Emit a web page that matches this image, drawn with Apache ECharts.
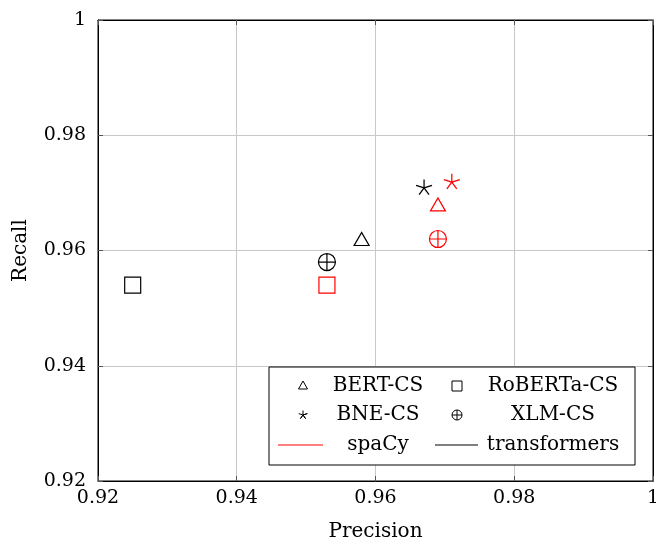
<!DOCTYPE html>
<html><head><meta charset="utf-8">
<script src="https://cdn.jsdelivr.net/npm/echarts@6/dist/echarts.min.js"></script>
<style>html,body{margin:0;padding:0;background:#fff;overflow:hidden}#c{width:656px;height:542px}</style>
</head><body><div id="c"></div>
<script>
const models = ['BERT-CS', 'RoBERTa-CS', 'BNE-CS', 'XLM-CS'];
const frameworks = ['spaCy', 'transformers'];
const frameworkColors = ['#ff0000', '#000000'];
const spacyPrecision = [0.969, 0.953, 0.971, 0.969];
const spacyRecall = [0.968, 0.954, 0.972, 0.962];
const transformersPrecision = [0.958, 0.925, 0.967, 0.953];
const transformersRecall = [0.962, 0.954, 0.971, 0.958];
const xTicks = [0.92, 0.94, 0.96, 0.98, 1];
const yTicks = [0.92, 0.94, 0.96, 0.98, 1];

const symbols = {
  'BERT-CS': 'path://M0,-1.1 L1,0.75 L-1,0.75 Z',
  'RoBERTa-CS': 'path://M-1,-1 L1,-1 L1,1 L-1,1 Z',
  'BNE-CS': 'path://M0,0 L0,-1 M0,0 L0.951,-0.309 M0,0 L0.588,0.809 M0,0 L-0.588,0.809 M0,0 L-0.951,-0.309',
  'XLM-CS': 'path://M-1,0 A1,1 0 1,1 1,0 A1,1 0 1,1 -1,0 Z M-1,0 L1,0 M0,-1 L0,1'
};
const sizes = {'BERT-CS':[15,13], 'RoBERTa-CS':[16,16], 'BNE-CS':[16,15], 'XLM-CS':[17,17]};
const FONT = 'DejaVu Serif';
const FS = 20;
const TFS = 19;

const series = [];
[[spacyPrecision, spacyRecall], [transformersPrecision, transformersRecall]].forEach((pr, fi) => {
  models.forEach((m, mi) => {
    series.push({
      type: 'scatter',
      name: frameworks[fi] + ' ' + m,
      symbol: symbols[m],
      symbolSize: sizes[m],
      symbolKeepAspect: false,
      xAxisIndex: 0, yAxisIndex: 0,
      data: [[pr[0][mi], pr[1][mi]]],
      itemStyle: {color: 'rgba(0,0,0,0)', borderColor: frameworkColors[fi], borderWidth: 1.2, opacity: 1},
      emphasis: {disabled: true},
      z: 5
    });
  });
});

// legend as graphic
const lgX = 269, lgY = 367, lgW = 366, lgH = 98;
const rowY = [386, 415, 445];
const colMarkX = [303, 457];
const colTextX = [378, 553];
const g = [{type:'rect', shape:{x:lgX, y:lgY, width:lgW, height:lgH}, style:{fill:'#fff', stroke:'#000', lineWidth:1}, z:10}];
const legSym = {
  'BERT-CS': {type:'polygon', shape:{points:[[0,-5],[4.5,3],[-4.5,3]]}},
  'RoBERTa-CS': {type:'rect', shape:{x:-5, y:-5, width:10, height:10}},
  'BNE-CS': {type:'polyline', shape:{points:[[0,-4.5],[0,0],[4.3,-1.4],[0,0],[2.6,3.6],[0,0],[-2.6,3.6],[0,0],[-4.3,-1.4]]}},
  'XLM-CS': null
};
models.forEach((m, i) => {
  const r = Math.floor(i / 2), c = i % 2;
  const cx = colMarkX[c], cy = rowY[r];
  if (m === 'XLM-CS') {
    g.push({type:'circle', shape:{cx:cx, cy:cy, r:5}, style:{fill:'none', stroke:'#000', lineWidth:1}, z:11});
    g.push({type:'line', shape:{x1:cx-5, y1:cy, x2:cx+5, y2:cy}, style:{stroke:'#000', lineWidth:1}, z:11});
    g.push({type:'line', shape:{x1:cx, y1:cy-5, x2:cx, y2:cy+5}, style:{stroke:'#000', lineWidth:1}, z:11});
  } else {
    const s = legSym[m];
    g.push(Object.assign({}, s, {x:cx, y:cy, style:{fill:'none', stroke:'#000', lineWidth:1}, z:11}));
  }
  g.push({type:'text', x:colTextX[c], y:cy, style:{text:m, font:FS + 'px "' + FONT + '"', fill:'#000', align:'center', verticalAlign:'middle'}, z:11});
});
const lineX = [[278, 323], [435, 478]];
frameworks.forEach((f, i) => {
  g.push({type:'line', shape:{x1:lineX[i][0], y1:rowY[2], x2:lineX[i][1], y2:rowY[2]}, style:{stroke:frameworkColors[i], lineWidth:1}, z:11});
  g.push({type:'text', x:colTextX[i], y:rowY[2], style:{text:f, font:FS + 'px "' + FONT + '"', fill:'#000', align:'center', verticalAlign:'middle'}, z:11});
});

const fmt = v => (Math.abs(v - 1) < 1e-9 ? '1' : String(Math.round(v * 100) / 100));
const axisCommon = {
  min: 0.92, max: 1, interval: 0.02,
  axisLine: {show: true, onZero: false, lineStyle: {color: '#000', width: 1}},
  axisTick: {show: true, inside: true, length: 5, lineStyle: {color: '#555'}},
  splitLine: {show: true, lineStyle: {color: '#c8c8c8', width: 1}},
  axisLabel: {color: '#000', fontFamily: FONT, fontSize: TFS, formatter: fmt, margin: 10},
  nameTextStyle: {color: '#000', fontFamily: FONT, fontSize: FS}
};
const mirror = {
  type: 'value', min: 0.92, max: 1, interval: 0.02,
  axisLine: {show: true, onZero: false, lineStyle: {color: '#000', width: 1}},
  axisTick: {show: true, inside: true, length: 5, lineStyle: {color: '#555'}},
  splitLine: {show: false}, axisLabel: {show: false}
};

const chart = echarts.init(document.getElementById('c'), null, {renderer: 'canvas'});
chart.setOption({
  animation: false,
  backgroundColor: '#fff',
  grid: {left: 98, top: 20, right: 3, bottom: 61, containLabel: false, outerBoundsMode: 'none',
    show: true, borderColor: '#000', borderWidth: 1, backgroundColor: 'transparent'},
  xAxis: [
    Object.assign({}, axisCommon, {type: 'value', position: 'bottom', name: 'Precision', nameLocation: 'middle', nameGap: 41,
      axisLabel: Object.assign({}, axisCommon.axisLabel, {margin: 8})}),
    Object.assign({}, mirror, {position: 'top'})
  ],
  yAxis: [
    Object.assign({}, axisCommon, {type: 'value', position: 'left', name: 'Recall', nameLocation: 'middle', nameGap: 67,
      axisLabel: Object.assign({}, axisCommon.axisLabel, {margin: 12})}),
    Object.assign({}, mirror, {position: 'right'})
  ],
  series: series,
  graphic: g
});
</script></body></html>
